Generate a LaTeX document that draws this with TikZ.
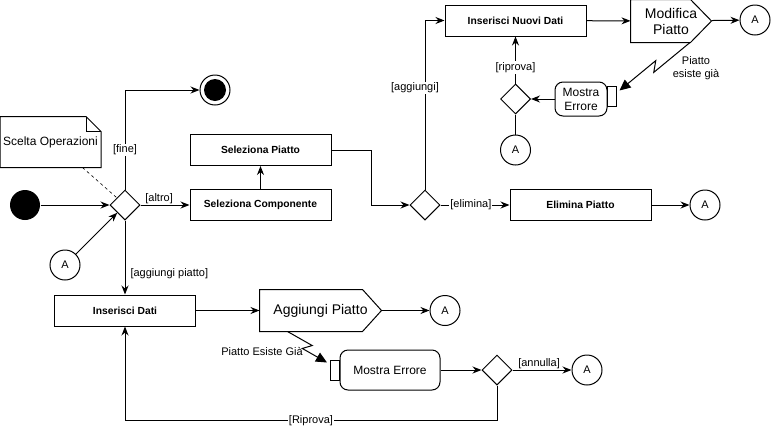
\documentclass[tikz,border=0pt]{standalone}
\usepackage{fontspec}
\setmainfont{Liberation Sans}
\usetikzlibrary{arrows.meta,shapes.geometric,calc}

\begin{document}
\begin{tikzpicture}[x=1pt, y=-1pt, line width=1pt,
    lbl/.style={font=\fontsize{11}{13}\selectfont, inner sep=1pt},
    act/.style={draw, rectangle, minimum width=141, minimum height=31, inner sep=0, font=\fontsize{10.3}{12}\selectfont\bfseries},
    dec/.style={draw, diamond, aspect=1, minimum width=30, minimum height=30, inner sep=0},
    conn/.style={draw, circle, minimum size=30, inner sep=0, font=\fontsize{11}{13}\selectfont},
    flow/.style={-{Stealth[length=9pt,width=7pt]}},
    exc/.style={-{Triangle[length=11pt,width=10pt]}},
    sig/.style={rectangle, inner sep=0, font=\fontsize{14}{16}\selectfont, align=center},
    err/.style={draw, rounded corners=8pt, inner sep=0, font=\fontsize{12}{14}\selectfont, align=center},
    pinbox/.style={draw, rectangle, minimum width=9, minimum height=20, inner sep=0}]
  \useasboundingbox (0,0) rectangle (771,429);
  \node[circle, fill=black, minimum size=30, inner sep=0] (S) at (25,205) {};
  \node[dec] (D1) at (125,205) {};
  \node[conn] (A1) at (65,265) {A};
  \node[draw, circle, minimum size=30, inner sep=0, path picture={\fill (path picture bounding box.center) circle (11pt);}] (E) at (215,90) {};
  \node[font=\fontsize{12}{14}\selectfont, minimum width=100, minimum height=50, inner sep=0] (N) at (50.5,142) {Scelta Operazioni};
  \draw (N.south west) -- (N.north west) -- ([xshift=-15pt]N.north east) -- ([yshift=-15pt]N.north east) -- (N.south east) -- cycle;
  \draw ([xshift=-15pt]N.north east) -- ++(0,15) -- ([yshift=-15pt]N.north east);
  \node[act] (SC) at (260.5,205) {Seleziona Componente};
  \node[act] (SP) at (260.5,150) {Seleziona Piatto};
  \node[dec] (D2) at (425,205) {};
  \node[act] (ND) at (515.5,20.5) {Inserisci Nuovi Dati};
  \node[sig, minimum width=80, minimum height=42] (MP) at (671,21) {Modifica\\Piatto};
  \draw (MP.north west) -- ([xshift=-21pt]MP.north east) -- (MP.east) -- ([xshift=-21pt]MP.south east) -- (MP.south west) -- cycle;
  \node[conn] (A2) at (755,20) {A};
  \node[err, minimum width=52, minimum height=34] (ER1) at (581,99) {Mostra\\Errore};
  \node[pinbox] (P1) at (611.5,96) {};
  \node[dec] (D3) at (515.5,99) {};
  \node[conn] (A3) at (515.5,150) {A};
  \node[act] (EP) at (580.5,205) {Elimina Piatto};
  \node[conn] (A4) at (705,205) {A};
  \node[act] (ID) at (125,310.5) {Inserisci Dati};
  \node[sig, minimum width=121, minimum height=41] (AP) at (320.5,310.5) {Aggiungi Piatto};
  \draw (AP.north west) -- ([xshift=-19pt]AP.north east) -- (AP.east) -- ([xshift=-19pt]AP.south east) -- (AP.south west) -- cycle;
  \node[conn] (A5) at (445,310.5) {A};
  \node[err, minimum width=100, minimum height=40] (ER2) at (390,370) {Mostra Errore};
  \node[pinbox] (P2) at (335,370) {};
  \node[dec] (D4) at (497,370) {};
  \node[conn] (A6) at (587,370) {A};
  \node[lbl, align=center] (T1) at (696,68) {Piatto\\esiste già};
  \node[lbl] (T2) at (262,351) {Piatto Esiste Già};
  \coordinate (X1) at ([xshift=19pt]MP.south);
  \coordinate (X2) at ([xshift=3pt,yshift=-5pt]P1.north east);
  \coordinate (X3) at ([xshift=-33pt]AP.south);
  \coordinate (X4) at ([xshift=-3pt,yshift=-3pt]P2.north west);
  \draw[flow] (S) -- (D1);
  \draw[flow] (A1) -- (D1);
  \draw[dashed, line width=0.6pt] ([xshift=32pt]N.south) -- (D1);
  \draw[flow] (D1) |- (E) node[lbl, fill=white, pos=0.2] {[fine]};
  \draw[flow] (D1) -- (SC) node[lbl, above, pos=0.38] {[altro]};
  \draw[flow] (SC) -- (SP);
  \draw[flow] (SP.east) -- ++(40,0) |- (D2);
  \draw[flow] (D2) |- (ND) node[lbl, fill=white, pos=0.3, xshift=-10pt] {[aggiungi]};
  \draw[flow] (ND) -- (MP);
  \draw[flow] (MP) -- (A2);
  \draw[exc] (X1) -- ($(X1)!0.55!(X2)+(2.5,3.5)$) -- ($(X1)!0.45!(X2)-(2.5,3.5)$) -- (X2);
  \draw[flow] (ER1) -- (D3);
  \draw[flow] (D3) -- (ND) node[lbl, fill=white, pos=0.34] {[riprova]};
  \draw (A3) -- (D3);
  \draw[flow] (D2) -- (EP) node[lbl, fill=white, pos=0.44] {[elimina]};
  \draw[flow] (EP) -- (A4);
  \draw[flow] (D1) -- (ID) node[lbl, right, pos=0.72, xshift=4pt] {[aggiungi piatto]};
  \draw[flow] (ID) -- (AP);
  \draw[flow] (AP) -- (A5);
  \draw[exc] (X3) -- ($(X3)!0.55!(X4)+(3,-3)$) -- ($(X3)!0.45!(X4)-(3,-3)$) -- (X4);
  \draw[flow] (ER2) -- (D4);
  \draw[flow] (D4) -- (A6) node[lbl, above, pos=0.45] {[annulla]};
  \draw[flow] (D4.south) -- ++(0,35) -| (ID) node[lbl, fill=white, pos=0.25] {[Riprova]};
\end{tikzpicture}
\end{document}
